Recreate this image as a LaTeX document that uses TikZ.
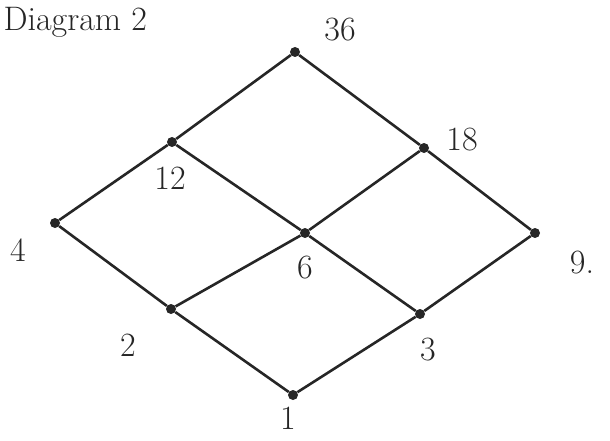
\documentclass[tikz,border=0pt]{standalone}
\usepackage{tikz}
\usetikzlibrary{positioning, calc}

\begin{document}
\begin{tikzpicture}[
    x=1pt, y=-1pt,
    vertex/.style={circle, fill=black!85, inner sep=0pt, minimum size=10pt},
    divisor/.style={font=\fontsize{34}{40}\selectfont, text=black!85},
    hasse edge/.style={draw=black!85, line width=2.6pt}
]
\useasboundingbox (0,0) rectangle (610,441);

% --- Title ---
\node[divisor, anchor=west] (title) at (0,22) {Diagram 2};

% --- Vertices (divisors of 36) ---
\foreach \d/\px/\py in {1/293/395, 2/171/309, 3/420/314, 4/55/223, 6/305/233,
                        9/535/233, 12/172/142, 18/424/148, 36/295/52} {
    \node[vertex] (n\d) at (\px,\py) {};
}

% --- Labels ---
\node[divisor] (l1)  at (288,418) {1};
\node[divisor] (l2)  at (128,345) {2};
\node[divisor] (l3)  at (428,350) {3};
\node[divisor] (l4)  at (18,250)  {4};
\node[divisor] (l6)  at (305,268) {6};
\node[divisor] (l9)  at (582,263) {9.};
\node[divisor] (l12) at (170,178) {12};
\node[divisor] (l18) at (462,140) {18};
\node[divisor] (l36) at (340,30)  {36};

% --- Edges ---
\draw[hasse edge] (n1)--(n2);
\draw[hasse edge] (n1)--(n3);
\draw[hasse edge] (n2)--(n4);
\draw[hasse edge] (n2)--(n6);
\draw[hasse edge] (n3)--(n6);
\draw[hasse edge] (n3)--(n9);
\draw[hasse edge] (n4)--(n12);
\draw[hasse edge] (n6)--(n12);
\draw[hasse edge] (n6)--(n18);
\draw[hasse edge] (n9)--(n18);
\draw[hasse edge] (n12)--(n36);
\draw[hasse edge] (n18)--(n36);

\end{tikzpicture}
\end{document}
